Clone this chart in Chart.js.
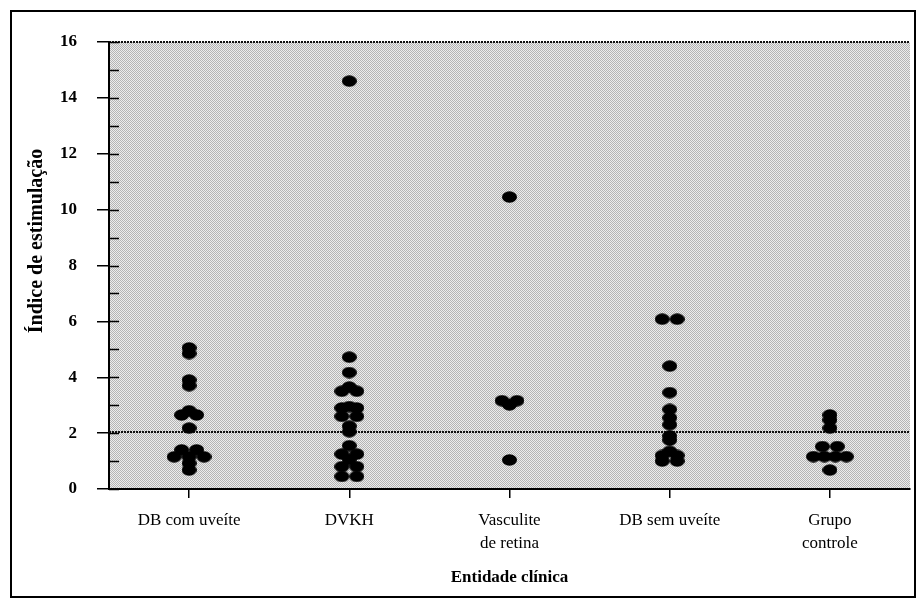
<!DOCTYPE html>
<html>
<head>
<meta charset="utf-8">
<script src="https://cdn.jsdelivr.net/npm/chart.js@4/dist/chart.umd.min.js"></script>
<style>
  body { margin: 0; background: #fff; }
  #wrap { width: 917px; height: 599px; }
</style>
</head>
<body>
<div id="wrap"><canvas id="dotChart" width="917" height="599"></canvas></div>
<script>
const categories = ["DB com uveíte", "DVKH", ["Vasculite", "de retina"], "DB sem uveíte", ["Grupo", "controle"]];
const yTicks = [0, 2, 4, 6, 8, 10, 12, 14, 16];
const cutoffValue = [2.03];

const dbComUveite = [5.05, 4.85, 3.9, 3.7, 2.8, 2.65, 2.65, 2.18, 1.4, 1.4, 1.15, 1.15, 1.15, 0.92, 0.68];
const dvkh = [14.6, 4.72, 4.17, 3.65, 3.5, 3.5, 2.95, 2.9, 2.9, 2.6, 2.6, 2.25, 2.05, 1.55, 1.25, 1.25, 1.05, 0.8, 0.8, 0.45, 0.45];
const vasculite = [10.45, 3.16, 3.16, 3.01, 1.04];
const dbSemUveite = [6.08, 6.08, 4.4, 3.45, 2.85, 2.55, 2.3, 1.9, 1.75, 1.35, 1.2, 1.2, 1.0, 1.0];
const grupoControle = [2.65, 2.47, 2.18, 1.52, 1.52, 1.16, 1.16, 1.16, 1.16, 0.68];

const groups = [dbComUveite, dvkh, vasculite, dbSemUveite, grupoControle];

const FONT = "'Liberation Serif', 'DejaVu Serif', serif";
const PX_PER_CATEGORY = 161;

// dot shape: a small black ellipse
const dot = document.createElement("canvas");
dot.width = 15;
dot.height = 12;
(() => {
  const c = dot.getContext("2d");
  c.fillStyle = "#000";
  c.beginPath();
  c.ellipse(7.5, 6, 7.5, 5.8, 0, 0, Math.PI * 2);
  c.fill();
})();

// stippled grey fill of the plot area
const stipple = document.createElement("canvas");
stipple.width = 2;
stipple.height = 2;
(() => {
  const c = stipple.getContext("2d");
  c.fillStyle = "#ececec";
  c.fillRect(0, 0, 2, 2);
  c.fillStyle = "#b4b4b4";
  c.fillRect(0, 0, 1, 1);
  c.fillRect(1, 1, 1, 1);
})();

// equal values are placed side by side
function spread(values, index) {
  const counts = {};
  values.forEach((v) => (counts[v] = (counts[v] || 0) + 1));
  const seen = {};
  return values.map((v) => {
    const n = counts[v];
    seen[v] = (seen[v] || 0) + 1;
    const step = (n > 3 ? 11 : 15) / PX_PER_CATEGORY;
    return { x: index + (seen[v] - 1 - (n - 1) / 2) * step, y: v };
  });
}

const decorPlugin = {
  id: "decor",
  beforeDraw(chart) {
    const { ctx, chartArea: a } = chart;
    ctx.save();
    ctx.fillStyle = "#fff";
    ctx.fillRect(0, 0, chart.width, chart.height);
    ctx.fillStyle = ctx.createPattern(stipple, "repeat");
    ctx.fillRect(a.left, a.top, a.right - a.left, a.bottom - a.top);
    ctx.restore();
  },
  beforeDatasetsDraw(chart) {
    const { ctx, chartArea: a, scales } = chart;
    const y = scales.y;
    ctx.save();
    ctx.strokeStyle = "#111";
    ctx.lineWidth = 2;
    ctx.setLineDash([2, 1]);
    // top edge
    ctx.beginPath();
    ctx.moveTo(a.left, a.top);
    ctx.lineTo(a.right, a.top);
    ctx.stroke();
    // cutoff line
    cutoffValue.forEach((v) => {
      const py = Math.round(y.getPixelForValue(v));
      ctx.beginPath();
      ctx.moveTo(a.left, py);
      ctx.lineTo(a.right, py);
      ctx.stroke();
    });
    ctx.setLineDash([]);
    // inner tick marks, every unit
    ctx.strokeStyle = "#000";
    ctx.lineWidth = 1.5;
    for (let v = y.min; v <= y.max; v++) {
      const py = Math.round(y.getPixelForValue(v)) + 0.5;
      ctx.beginPath();
      ctx.moveTo(a.left, py);
      ctx.lineTo(a.left + 10, py);
      ctx.stroke();
    }
    ctx.restore();
  },
  afterDraw(chart) {
    const { ctx } = chart;
    ctx.save();
    ctx.strokeStyle = "#000";
    ctx.lineWidth = 2;
    ctx.strokeRect(11, 11, 904, 586);
    // y axis title
    ctx.translate(37, 241);
    ctx.rotate(-Math.PI / 2);
    ctx.fillStyle = "#000";
    ctx.font = "bold 20px " + FONT;
    ctx.textAlign = "center";
    ctx.textBaseline = "middle";
    ctx.fillText("Índice de estimulação", 0, 0);
    ctx.restore();
  },
};

new Chart(document.getElementById("dotChart"), {
  type: "scatter",
  data: {
    datasets: groups.map((values, i) => ({
      data: spread(values, i),
      pointStyle: dot,
      pointRadius: 6,
      backgroundColor: "#000",
      borderColor: "#000",
    })),
  },
  options: {
    responsive: false,
    animation: false,
    layout: { padding: { top: 42, right: 2, left: 0, bottom: 0 } },
    plugins: {
      legend: { display: false },
      tooltip: { enabled: false },
    },
    scales: {
      x: {
        type: "linear",
        min: -0.5,
        max: 4.5,
        afterBuildTicks: (scale) => {
          scale.ticks = categories.map((_, i) => ({ value: i }));
        },
        afterFit: (scale) => {
          scale.height = 110;
        },
        ticks: {
          color: "#000",
          padding: 11,
          maxRotation: 0,
          autoSkip: false,
          font: { family: FONT, size: 17, lineHeight: 1.35 },
          callback: (v) => categories[v],
        },
        grid: { drawOnChartArea: false, drawTicks: true, tickLength: 9, color: "#000", lineWidth: 1.5 },
        border: { display: true, color: "#000", width: 2 },
        title: {
          display: true,
          text: "Entidade clínica",
          color: "#000",
          font: { family: FONT, size: 17, weight: "bold" },
          padding: { top: 0, bottom: 11 },
        },
      },
      y: {
        min: 0,
        max: 16,
        afterBuildTicks: (scale) => {
          scale.ticks = yTicks.map((v) => ({ value: v }));
        },
        afterFit: (scale) => {
          scale.width = 109;
        },
        ticks: {
          color: "#000",
          padding: 20,
          font: { family: FONT, size: 17, weight: "bold" },
        },
        grid: { drawOnChartArea: false, drawTicks: true, tickLength: 12, color: "#000", lineWidth: 1.5 },
        border: { display: true, color: "#000", width: 2 },
      },
    },
  },
  plugins: [decorPlugin],
});
</script>
</body>
</html>
